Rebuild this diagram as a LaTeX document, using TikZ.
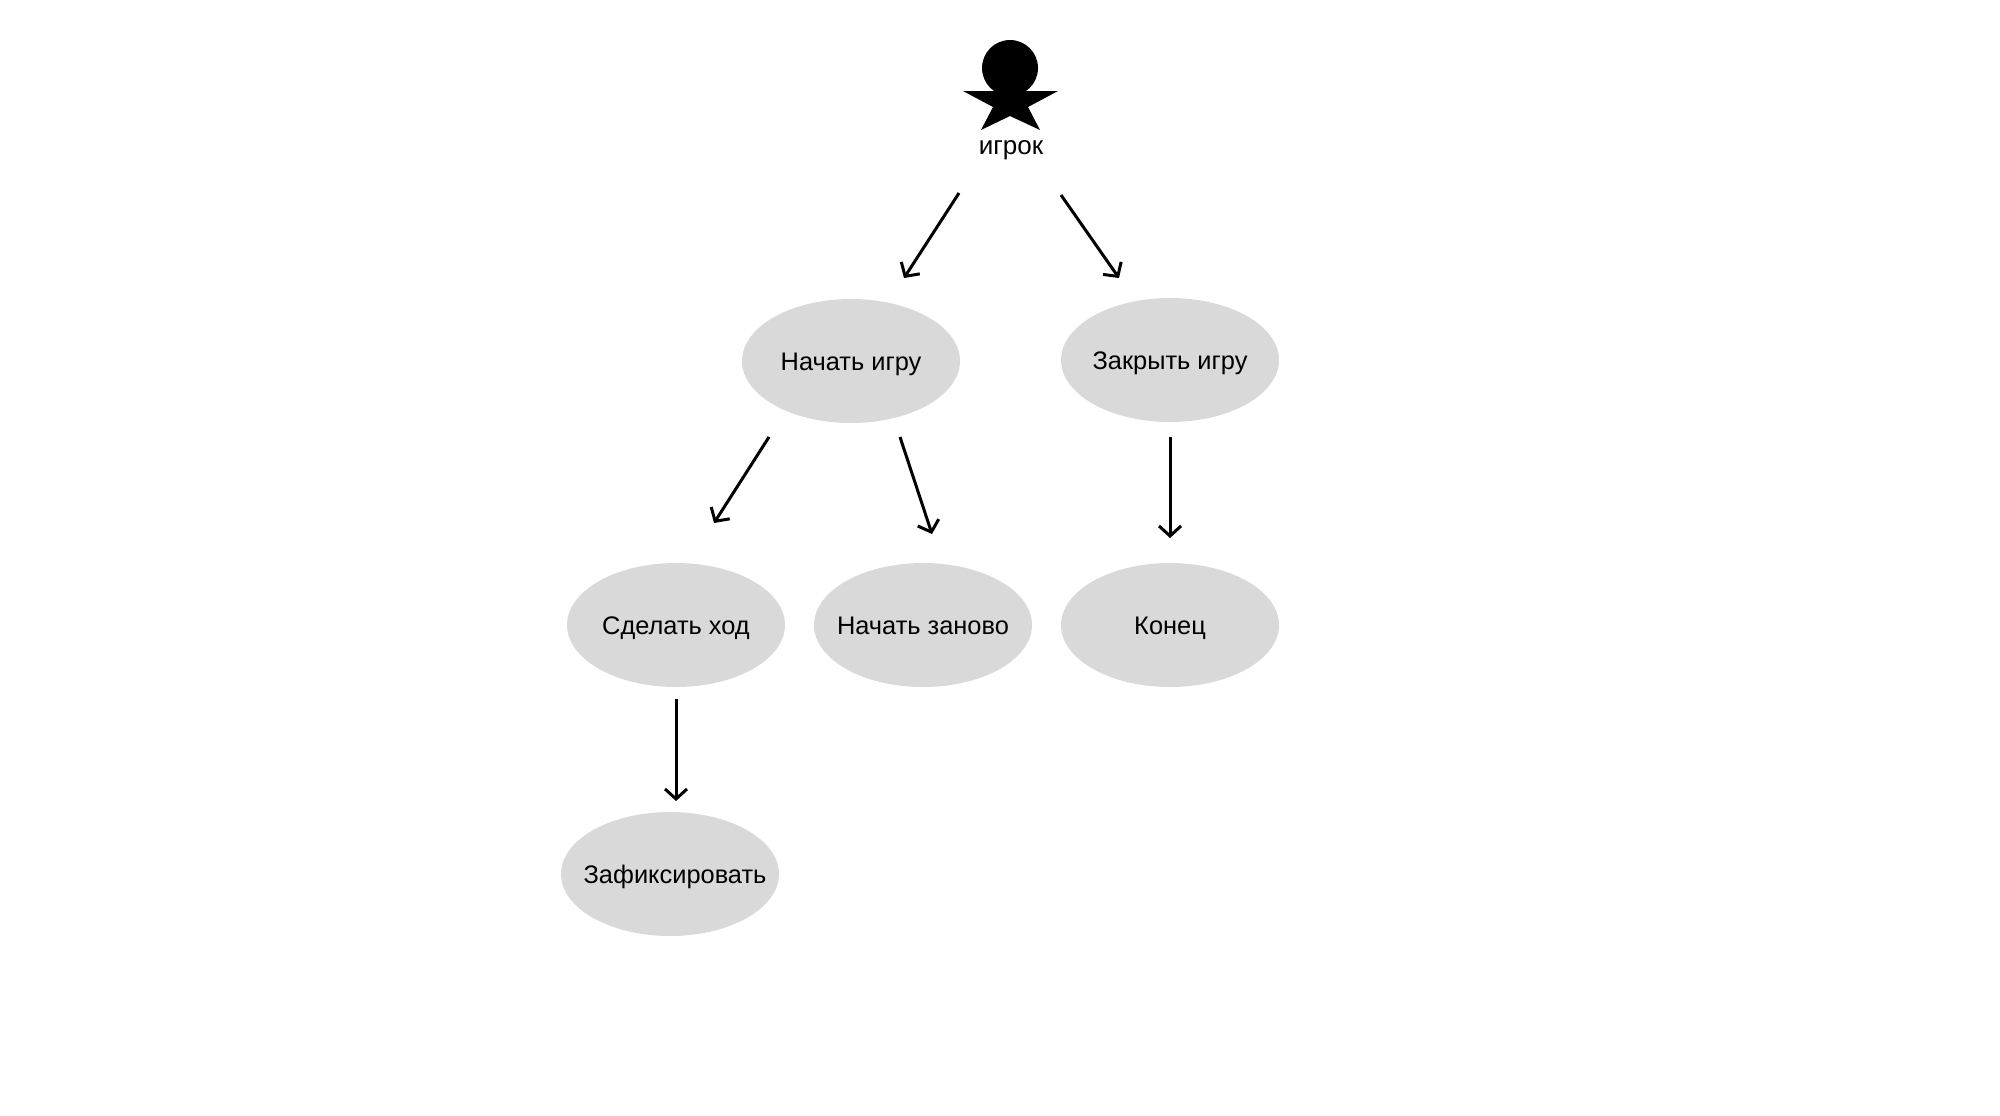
\documentclass[tikz,border=0pt]{standalone}
\usepackage{fontspec}
\setmainfont{Liberation Sans}
\usetikzlibrary{arrows.meta,positioning,shapes.geometric}
\definecolor{ucgray}{RGB}{217,217,217}
\newcommand{\uclabel}[1]{\raisebox{-4.5pt}[0pt][0pt]{\makebox[0pt]{#1}}}
\tikzset{
  usecase/.style={ellipse,fill=ucgray,inner sep=0pt,minimum width=109pt,minimum height=62pt,font=\fontsize{12.7}{15}\selectfont},
  flow/.style={line width=1.5pt,-{Straight Barb[length=5pt,width=11pt,line width=1.5pt]}}
}
\begin{document}
\begin{tikzpicture}[x=0.5pt,y=-0.5pt]
  \useasboundingbox (0,0) rectangle (2000,1115);
  % Actor
  \node[circle,fill=black,inner sep=0pt,minimum size=28pt] (head) at (1010,68) {};
  \fill (963,91) -- (1058,91) -- (1028,107) -- (1040,130) -- (1010,116) -- (981,130) -- (993,107) -- cycle;
  \node[font=\fontsize{13}{15}\selectfont] (player) at (1011,150) {игрок};
  % First row
  \node[usecase] (start) at (851,361) {\uclabel{Начать игру}};
  \node[usecase] (close) at (1170,360) {\uclabel{Закрыть игру}};
  % Second row
  \node[usecase] (move) at (676,625) {\uclabel{Сделать ход}};
  \node[usecase] (restart) at (923,625) {\uclabel{Начать заново}};
  \node[usecase] (finish) at (1170,625) {\uclabel{Конец}};
  % Last row
  \node[usecase] (fix) at (670,874) {\uclabel{\hspace*{5pt}Зафиксировать}};
  % Arrows
  \draw[flow] ([shift={(-52,43)}]player.center) -- ([shift={(53,-83)}]start.center);
  \draw[flow] ([shift={(50,45)}]player.center) -- ([shift={(-51,-82)}]close.center);
  \draw[flow] ([shift={(-82,76)}]start.center) -- ([shift={(38,-102)}]move.center);
  \draw[flow] ([shift={(49,76)}]start.center) -- ([shift={(9,-91)}]restart.center);
  \draw[flow] ([shift={(0,77)}]close.center) -- ([shift={(0,-87)}]finish.center);
  \draw[flow] ([shift={(0,74)}]move.center) -- ([shift={(6,-73)}]fix.center);
\end{tikzpicture}
\end{document}
